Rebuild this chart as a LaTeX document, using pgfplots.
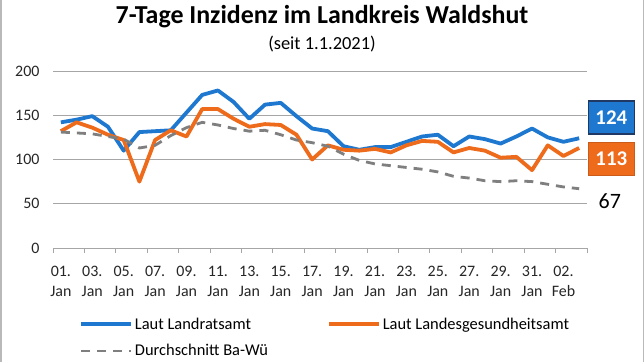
\documentclass[border=0pt]{standalone}
\usepackage{pgfplots}
\pgfplotsset{compat=1.18}
\usepackage{pgfplotstable}
\usepackage{fontspec}
\setmainfont{Carlito}
\definecolor{lblue}{HTML}{1F78D0}
\definecolor{lorange}{HTML}{EE6B1C}
\definecolor{lgray}{HTML}{7F7F7F}
\definecolor{gridc}{HTML}{A6A6A6}
\definecolor{navy}{HTML}{1F3864}

\pgfplotstableread{
day blue orange gray
0 142 132 131
1 145 142 130
2 149 136 129
3 137 128 126
4 110 122 123
5 131 75 113
6 132 122 116
7 133 133 127
8 153 126 136
9 173 157 142
10 178 157 139
11 165 146 135
12 146 137 132
13 162 140 133
14 164 139 128
15 149 128 122
16 135 100 119
17 132 116 115
18 115 111 106
19 111 110 99
20 114 112 95
21 114 108 93
22 120 116 91
23 126 121 89
24 128 120 86
25 115 108 81
26 126 113 79
27 123 110 76
28 118 102 75
29 126 103 76
30 135 88 75
31 125 116 72
32 120 104 69
33 124 113 67
}\datatable

\begin{document}
\begin{tikzpicture}[x=1bp,y=1bp]
\clip (0,0) rectangle (644,362);
\fill[white] (0,0) rectangle (644,362);
\draw[gray!55, line width=2bp] (0.5,0) -- (0.5,362);
\draw[gray!55, line width=2bp] (643.5,0) -- (643.5,362);
\node[anchor=base, font=\fontsize{26}{30}\selectfont\bfseries] at (322,339) {7-Tage Inzidenz im Landkreis Waldshut};
\node[anchor=base, font=\fontsize{18.5}{22}\selectfont] at (322,313) {(seit 1.1.2021)};
\begin{axis}[
  at={(53bp,114bp)}, anchor=south west,
  scale only axis, width=534bp, height=177bp,
  xmin=-0.5, xmax=33.5, ymin=0, ymax=200,
  axis line style={draw=none},
  ytick={0,50,100,150,200},
  ymajorgrids,
  grid style={gridc, line width=1bp},
  ytick style={draw=none},
  yticklabel style={font=\fontsize{16}{19}\selectfont, text=black!85, xshift=-10bp},
  /pgf/number format/assume math mode=true,
  xtick={0,2,...,32},
  xticklabels={{01.\\Jan},{03.\\Jan},{05.\\Jan},{07.\\Jan},{09.\\Jan},{11.\\Jan},{13.\\Jan},{15.\\Jan},{17.\\Jan},{19.\\Jan},{21.\\Jan},{23.\\Jan},{25.\\Jan},{27.\\Jan},{29.\\Jan},{31.\\Jan},{02.\\Feb}},
  xticklabel style={font=\fontsize{16}{19.5}\selectfont, text=black!85, align=center, yshift=-15bp},
  minor xtick={-0.5,1.5,...,33.5},
  major tick length=0pt,
  minor tick length=5bp,
  tick align=outside,
  xtick pos=bottom,
  minor tick style={gridc, line width=1bp},
  clip=false,
  legend style={at={(axis description cs:0.043,-0.37)}, anchor=north west, draw=none, fill=none,
    font=\fontsize{16.5}{19}\selectfont, legend columns=2, row sep=10bp,
    /tikz/every even column/.append style={column sep=57bp}},
  legend cell align=left,
  legend image code/.code={\draw[#1] (0bp,0bp) -- (50bp,0bp);},
]
\addplot[lblue, line width=3.8bp, line join=round] table[x=day, y=blue] {\datatable};
\addlegendentry{Laut Landratsamt}
\addplot[lorange, line width=3.8bp, line join=round] table[x=day, y=orange] {\datatable};
\addlegendentry{Laut Landesgesundheitsamt}
\addplot[lgray, line width=2.8bp, dash pattern=on 9bp off 7bp] table[x=day, y=gray] {\datatable};
\addlegendentry{Durchschnitt Ba-Wü}
\node[fill=lblue, draw=navy, line width=1.5bp, text=white, font=\fontsize{21}{24}\selectfont\bfseries, minimum width=46bp, minimum height=33bp, inner sep=0pt] at (axis cs:35.05,147.5) {124};
\node[fill=lorange, draw=lorange!85!black, line width=1bp, text=white, font=\fontsize{21}{24}\selectfont\bfseries, minimum width=46bp, minimum height=33bp, inner sep=0pt] at (axis cs:35.05,100.5) {113};
\node[text=black, font=\fontsize{22}{24}\selectfont, inner sep=0pt] at (axis cs:34.95,53) {67};
\end{axis}
\end{tikzpicture}
\end{document}
